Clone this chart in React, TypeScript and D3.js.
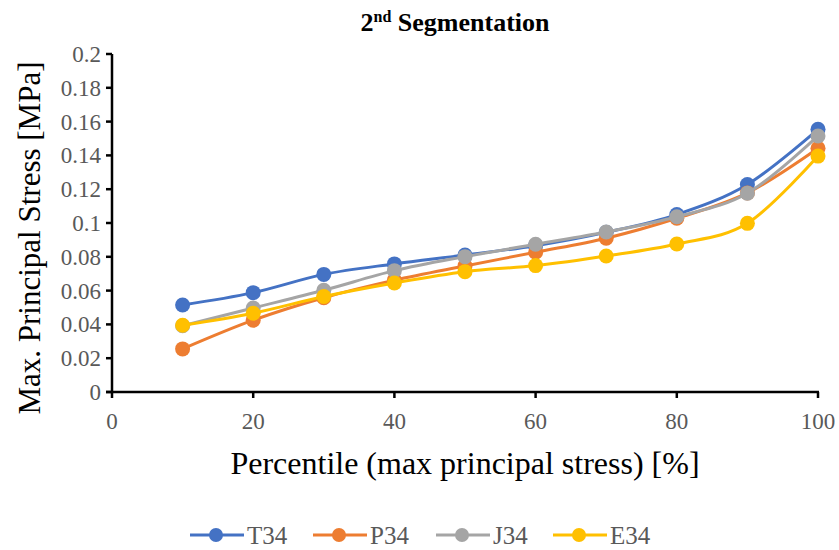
import React from "react";
import * as d3 from "d3";

const percentiles = [10, 20, 30, 40, 50, 60, 70, 80, 90, 100];
const T34 = [0.0515, 0.0588, 0.0696, 0.0758, 0.081, 0.0866, 0.0945, 0.105, 0.1228, 0.1554];
const P34 = [0.0255, 0.0425, 0.0558, 0.0662, 0.0746, 0.0827, 0.091, 0.1028, 0.1178, 0.1442];
const J34 = [0.0392, 0.0497, 0.0602, 0.0718, 0.0801, 0.0874, 0.0947, 0.1037, 0.1176, 0.1515];
const E34 = [0.0395, 0.0466, 0.0565, 0.0645, 0.0712, 0.0748, 0.0805, 0.0876, 0.0998, 0.1396];
const seriesNames = ["T34", "P34", "J34", "E34"];
const seriesValues = [T34, P34, J34, E34];
const colors = ["#4472C4", "#ED7D31", "#A5A5A5", "#FFC000"];
const xTicks = [0, 20, 40, 60, 80, 100];
const yTicks = [0, 0.02, 0.04, 0.06, 0.08, 0.1, 0.12, 0.14, 0.16, 0.18, 0.2];

const FONT = "'Liberation Serif', 'Times New Roman', serif";

export default function App() {
  const W = 839, H = 550;
  const x = d3.scaleLinear().domain([0, 100]).range([112, 818]);
  const y = d3.scaleLinear().domain([0, 0.2]).range([392, 54]);
  const line = d3
    .line<number>()
    .x((_, i) => x(percentiles[i]))
    .y((d) => y(d))
    .curve(d3.curveCatmullRom.alpha(0));

  const legendX = [190, 313, 436, 553];

  return (
    <svg width={W} height={H} style={{ position: "absolute", left: 0, top: 0, fontFamily: FONT }}>
      <rect width={W} height={H} fill="white" />
      <text x={455} y={31} textAnchor="middle" fontSize={26} fontWeight="bold" fill="#000">
        2<tspan fontSize={16} dy={-9}>nd</tspan>
        <tspan dy={9}> Segmentation</tspan>
      </text>

      {/* Y axis */}
      <line x1={x(0)} x2={x(0)} y1={y(0)} y2={y(0.2)} stroke="#000" strokeWidth={2.5} />
      {yTicks.map((t) => (
        <g key={"y" + t}>
          <line x1={x(0) - 6} x2={x(0)} y1={y(t)} y2={y(t)} stroke="#000" strokeWidth={2.5} />
          <text x={101} y={y(t)} dy="0.35em" textAnchor="end" fontSize={23} fill="#595959">
            {d3.format("~g")(t)}
          </text>
        </g>
      ))}

      {/* X axis */}
      <line x1={x(0) - 6} x2={x(100) + 1} y1={y(0)} y2={y(0)} stroke="#000" strokeWidth={2.5} />
      {xTicks.map((t) => (
        <g key={"x" + t}>
          <line x1={x(t)} x2={x(t)} y1={y(0)} y2={y(0) + 6} stroke="#000" strokeWidth={2.5} />
          <text x={x(t)} y={421} dy="0.35em" textAnchor="middle" fontSize={23} fill="#595959">
            {t}
          </text>
        </g>
      ))}

      <text
        transform={`translate(40, 238) rotate(-90)`}
        textAnchor="middle"
        fontSize={31}
        fill="#000"
      >
        Max. Principal Stress [MPa]
      </text>
      <text x={465} y={474} textAnchor="middle" fontSize={32} fill="#000">
        Percentile (max principal stress) [%]
      </text>

      {seriesValues.map((vals, si) => (
        <g key={seriesNames[si]}>
          <path d={line(vals) || ""} fill="none" stroke={colors[si]} strokeWidth={3} />
          {vals.map((v, i) => (
            <circle key={i} cx={x(percentiles[i])} cy={y(v)} r={7.5} fill={colors[si]} />
          ))}
        </g>
      ))}

      {/* Legend */}
      {seriesNames.map((n, i) => (
        <g key={"lg" + n} transform={`translate(${legendX[i]}, 535)`}>
          <line x1={0} x2={54} y1={0} y2={0} stroke={colors[i]} strokeWidth={3} />
          <circle cx={26} cy={0} r={7} fill={colors[i]} />
          <text x={57} y={0} dy="0.35em" fontSize={25} fill="#595959">
            {n}
          </text>
        </g>
      ))}
    </svg>
  );
}
